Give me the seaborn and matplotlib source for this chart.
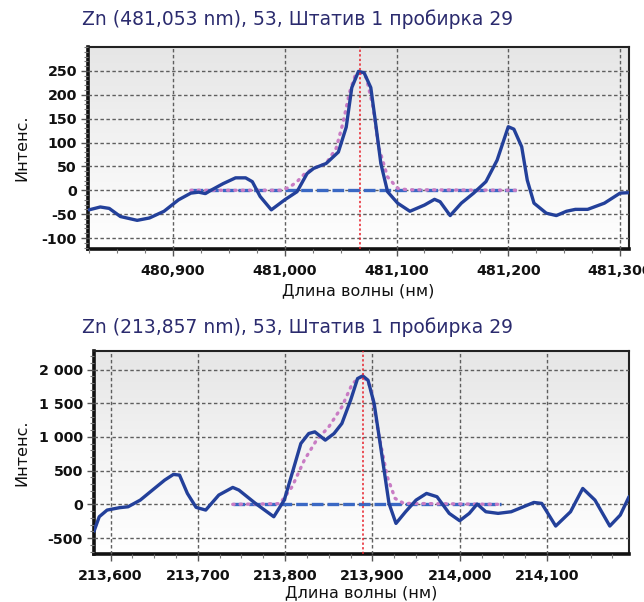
import numpy as np
import pandas as pd
import matplotlib
matplotlib.use("Agg")
import matplotlib.pyplot as plt
import seaborn as sns
from matplotlib.ticker import FuncFormatter, MultipleLocator, FixedLocator
from matplotlib.colors import LinearSegmentedColormap

# ---------------- data: top panel (Zn 481,053 nm) ----------------
top_title = "Zn (481,053 nm), 53, Штатив 1 пробирка 29"
top_wl = [480.825, 480.835, 480.843, 480.853, 480.868, 480.879, 480.892, 480.905,
          480.916, 480.923, 480.929, 480.934, 480.945, 480.956, 480.965, 480.971,
          480.978, 480.988, 481.000, 481.011, 481.020, 481.026, 481.037, 481.048,
          481.055, 481.060, 481.066, 481.071, 481.077, 481.081, 481.086, 481.092,
          481.101, 481.112, 481.125, 481.134, 481.139, 481.148, 481.158, 481.169,
          481.180, 481.190, 481.200, 481.205, 481.212, 481.217, 481.223, 481.234,
          481.243, 481.252, 481.260, 481.271, 481.286, 481.300, 481.308]
top_int = [-41, -35, -38, -55, -63, -58, -44, -20,
           -6, -4, -7, 0, 14, 26, 26, 18,
           -13, -41, -20, -3, 35, 46, 56, 80,
           132, 215, 249, 246, 215, 146, 56, -3,
           -27, -44, -31, -19, -24, -53, -27, -6,
           18, 63, 133, 128, 91, 21, -27, -48,
           -53, -44, -40, -40, -27, -6, -5]
top_fit_wl = [480.916, 480.996, 481.004, 481.011, 481.018, 481.026, 481.037, 481.046,
              481.052, 481.058, 481.063, 481.067, 481.073, 481.079, 481.084, 481.092,
              481.101, 481.110, 481.207]
top_fit = [0, 0, 6, 18, 35, 46, 56, 88, 140, 205, 240, 246, 236, 174, 91, 28, 4, 1, 0]
top_base_wl = [480.916, 481.207]
top_base = [0, 0]
top_line_wl = 481.067
top_xticks = [480.900, 481.000, 481.100, 481.200, 481.300]
top_yticks = [-100, -50, 0, 50, 100, 150, 200, 250]

# ---------------- data: bottom panel (Zn 213,857 nm) ----------------
bot_title = "Zn (213,857 nm), 53, Штатив 1 пробирка 29"
bot_wl = [213.581, 213.587, 213.596, 213.610, 213.620, 213.634, 213.648, 213.662,
          213.672, 213.679, 213.688, 213.698, 213.709, 213.724, 213.740, 213.747,
          213.766, 213.787, 213.799, 213.808, 213.818, 213.827, 213.834, 213.846,
          213.856, 213.865, 213.875, 213.883, 213.889, 213.895, 213.902, 213.910,
          213.919, 213.927, 213.938, 213.950, 213.962, 213.974, 213.988, 214.000,
          214.011, 214.020, 214.030, 214.044, 214.059, 214.073, 214.085, 214.094,
          214.110, 214.127, 214.141, 214.155, 214.172, 214.184, 214.194]
bot_int = [-400, -184, -85, -50, -36, 63, 212, 360,
           444, 434, 162, -45, -85, 138, 251, 212,
           14, -184, 63, 459, 903, 1051, 1076, 953,
           1051, 1200, 1545, 1867, 1906, 1842, 1496, 805,
           14, -283, -110, 63, 162, 113, -134, -243,
           -134, 4, -110, -134, -110, -36, 28, 14,
           -322, -110, 236, 63, -322, -159, 113]
bot_fit_wl = [213.740, 213.794, 213.808, 213.822, 213.836, 213.850, 213.865, 213.877,
              213.889, 213.898, 213.907, 213.917, 213.926, 213.936, 214.047]
bot_fit = [0, 10, 262, 657, 953, 1150, 1447, 1793, 1916, 1743, 1052, 410, 88, 14, 0]
bot_base_wl = [213.740, 214.047]
bot_base = [0, 0]
bot_line_wl = 213.889
bot_xticks = [213.600, 213.700, 213.800, 213.900, 214.000, 214.100]
bot_yticks = [-500, 0, 500, 1000, 1500, 2000]

# ---------------- styling ----------------
sns.set_theme(style="white")
plt.rcParams['font.family'] = ['DejaVu Sans']

MAIN = "#23409a"
BASE = "#3a68c4"
FIT = "#c97cc4"
TITLE_C = "#2b2b6e"
GRID_C = "#5e5e5e"

fig = plt.figure(figsize=(6.44, 6.02), dpi=100)
W, H = 644, 602


def px_axes(l, t, r, b):
    return fig.add_axes([l / W, 1 - b / H, (r - l) / W, (b - t) / H])


bg_cmap = LinearSegmentedColormap.from_list("bg", ["#e6e6e6", "#f3f3f3", "#ffffff"])


def panel(ax, wl, inten, fwl, fit, bwl, base, vline, xlim, ylim, xticks, yticks,
          yminor, yfmt, xlab_y, ylab_x):
    grad = np.linspace(0, 1, 256).reshape(-1, 1)
    ax.imshow(grad, extent=[xlim[0], xlim[1], ylim[0], ylim[1]], aspect="auto",
              cmap=bg_cmap, origin="upper", zorder=0)
    ax.set_xlim(*xlim)
    ax.set_ylim(*ylim)
    ax.xaxis.set_major_locator(FixedLocator(xticks))
    ax.yaxis.set_major_locator(FixedLocator(yticks))
    ax.xaxis.set_minor_locator(MultipleLocator(0.025))
    ax.yaxis.set_minor_locator(MultipleLocator(yminor))
    ax.grid(True, which="major", color=GRID_C, lw=1.0, ls=(0, (2.5, 1.8)), zorder=1)
    ax.set_axisbelow(False)

    sns.lineplot(x=bwl, y=base, ax=ax, color=BASE, lw=2.4, ls=(0, (3.5, 1.2)),
                 sort=False, estimator=None, zorder=3)
    sns.lineplot(x=fwl, y=fit, ax=ax, color=FIT, lw=2.4, ls=(0, (0.4, 1.8)),
                 dash_capstyle="round", sort=False, estimator=None, zorder=4)
    sns.lineplot(x=wl, y=inten, ax=ax, color=MAIN, lw=2.4, sort=False,
                 estimator=None, zorder=5, solid_joinstyle="round",
                 solid_capstyle="round")
    ax.axvline(vline, color="#e8202a", lw=1.1, ls=(0, (1.5, 1.5)), zorder=6)

    ax.xaxis.set_major_formatter(FuncFormatter(lambda v, p: f"{v:.3f}".replace(".", ",")))
    ax.yaxis.set_major_formatter(FuncFormatter(yfmt))
    ax.tick_params(axis="both", which="major", length=5, width=1.0, color="#555555",
                   labelsize=10.3, labelcolor="#111111", direction="out")
    ax.tick_params(axis="both", which="minor", length=3, width=0.8, color="#777777",
                   direction="out")
    ax.tick_params(axis="x", which="major", pad=6)
    ax.tick_params(axis="y", which="major", pad=3)
    ax.tick_params(bottom=True, left=True, which="both")
    for lab in ax.get_xticklabels() + ax.get_yticklabels():
        lab.set_fontweight("bold")

    for side in ["top", "right"]:
        ax.spines[side].set_color("#222222")
        ax.spines[side].set_linewidth(1.5)
    for side in ["left", "bottom"]:
        ax.spines[side].set_color("#111111")
        ax.spines[side].set_linewidth(2.6)

    ax.set_xlabel("Длина волны (нм)", fontsize=11.5, color="#111111")
    ax.set_ylabel("Интенс.", fontsize=11.5, color="#111111")
    ax.xaxis.set_label_coords(0.5, xlab_y)
    ax.xaxis.label.set_va("center")
    ax.yaxis.set_label_coords(ylab_x, 0.5)
    ax.yaxis.label.set_va("center")


ax1 = px_axes(88, 47, 629, 249)
panel(ax1, top_wl, top_int, top_fit_wl, top_fit, top_base_wl, top_base, top_line_wl,
      (480.824, 481.308), (-123, 300), top_xticks, top_yticks, 10,
      lambda v, p: f"{int(round(v))}", -0.205, -0.122)
fig.text(82 / W, 1 - 19 / H, top_title, fontsize=13.5, color=TITLE_C,
         ha="left", va="center")

ax2 = px_axes(94, 351, 629, 554)
panel(ax2, bot_wl, bot_int, bot_fit_wl, bot_fit, bot_base_wl, bot_base, bot_line_wl,
      (213.581, 214.194), (-737, 2276), bot_xticks, bot_yticks, 100,
      lambda v, p: f"{int(round(v)):,}".replace(",", " "), -0.19, -0.134)
fig.text(82 / W, 1 - 327 / H, bot_title, fontsize=13.5, color=TITLE_C,
         ha="left", va="center")

fig.savefig("out.png", dpi=100)
